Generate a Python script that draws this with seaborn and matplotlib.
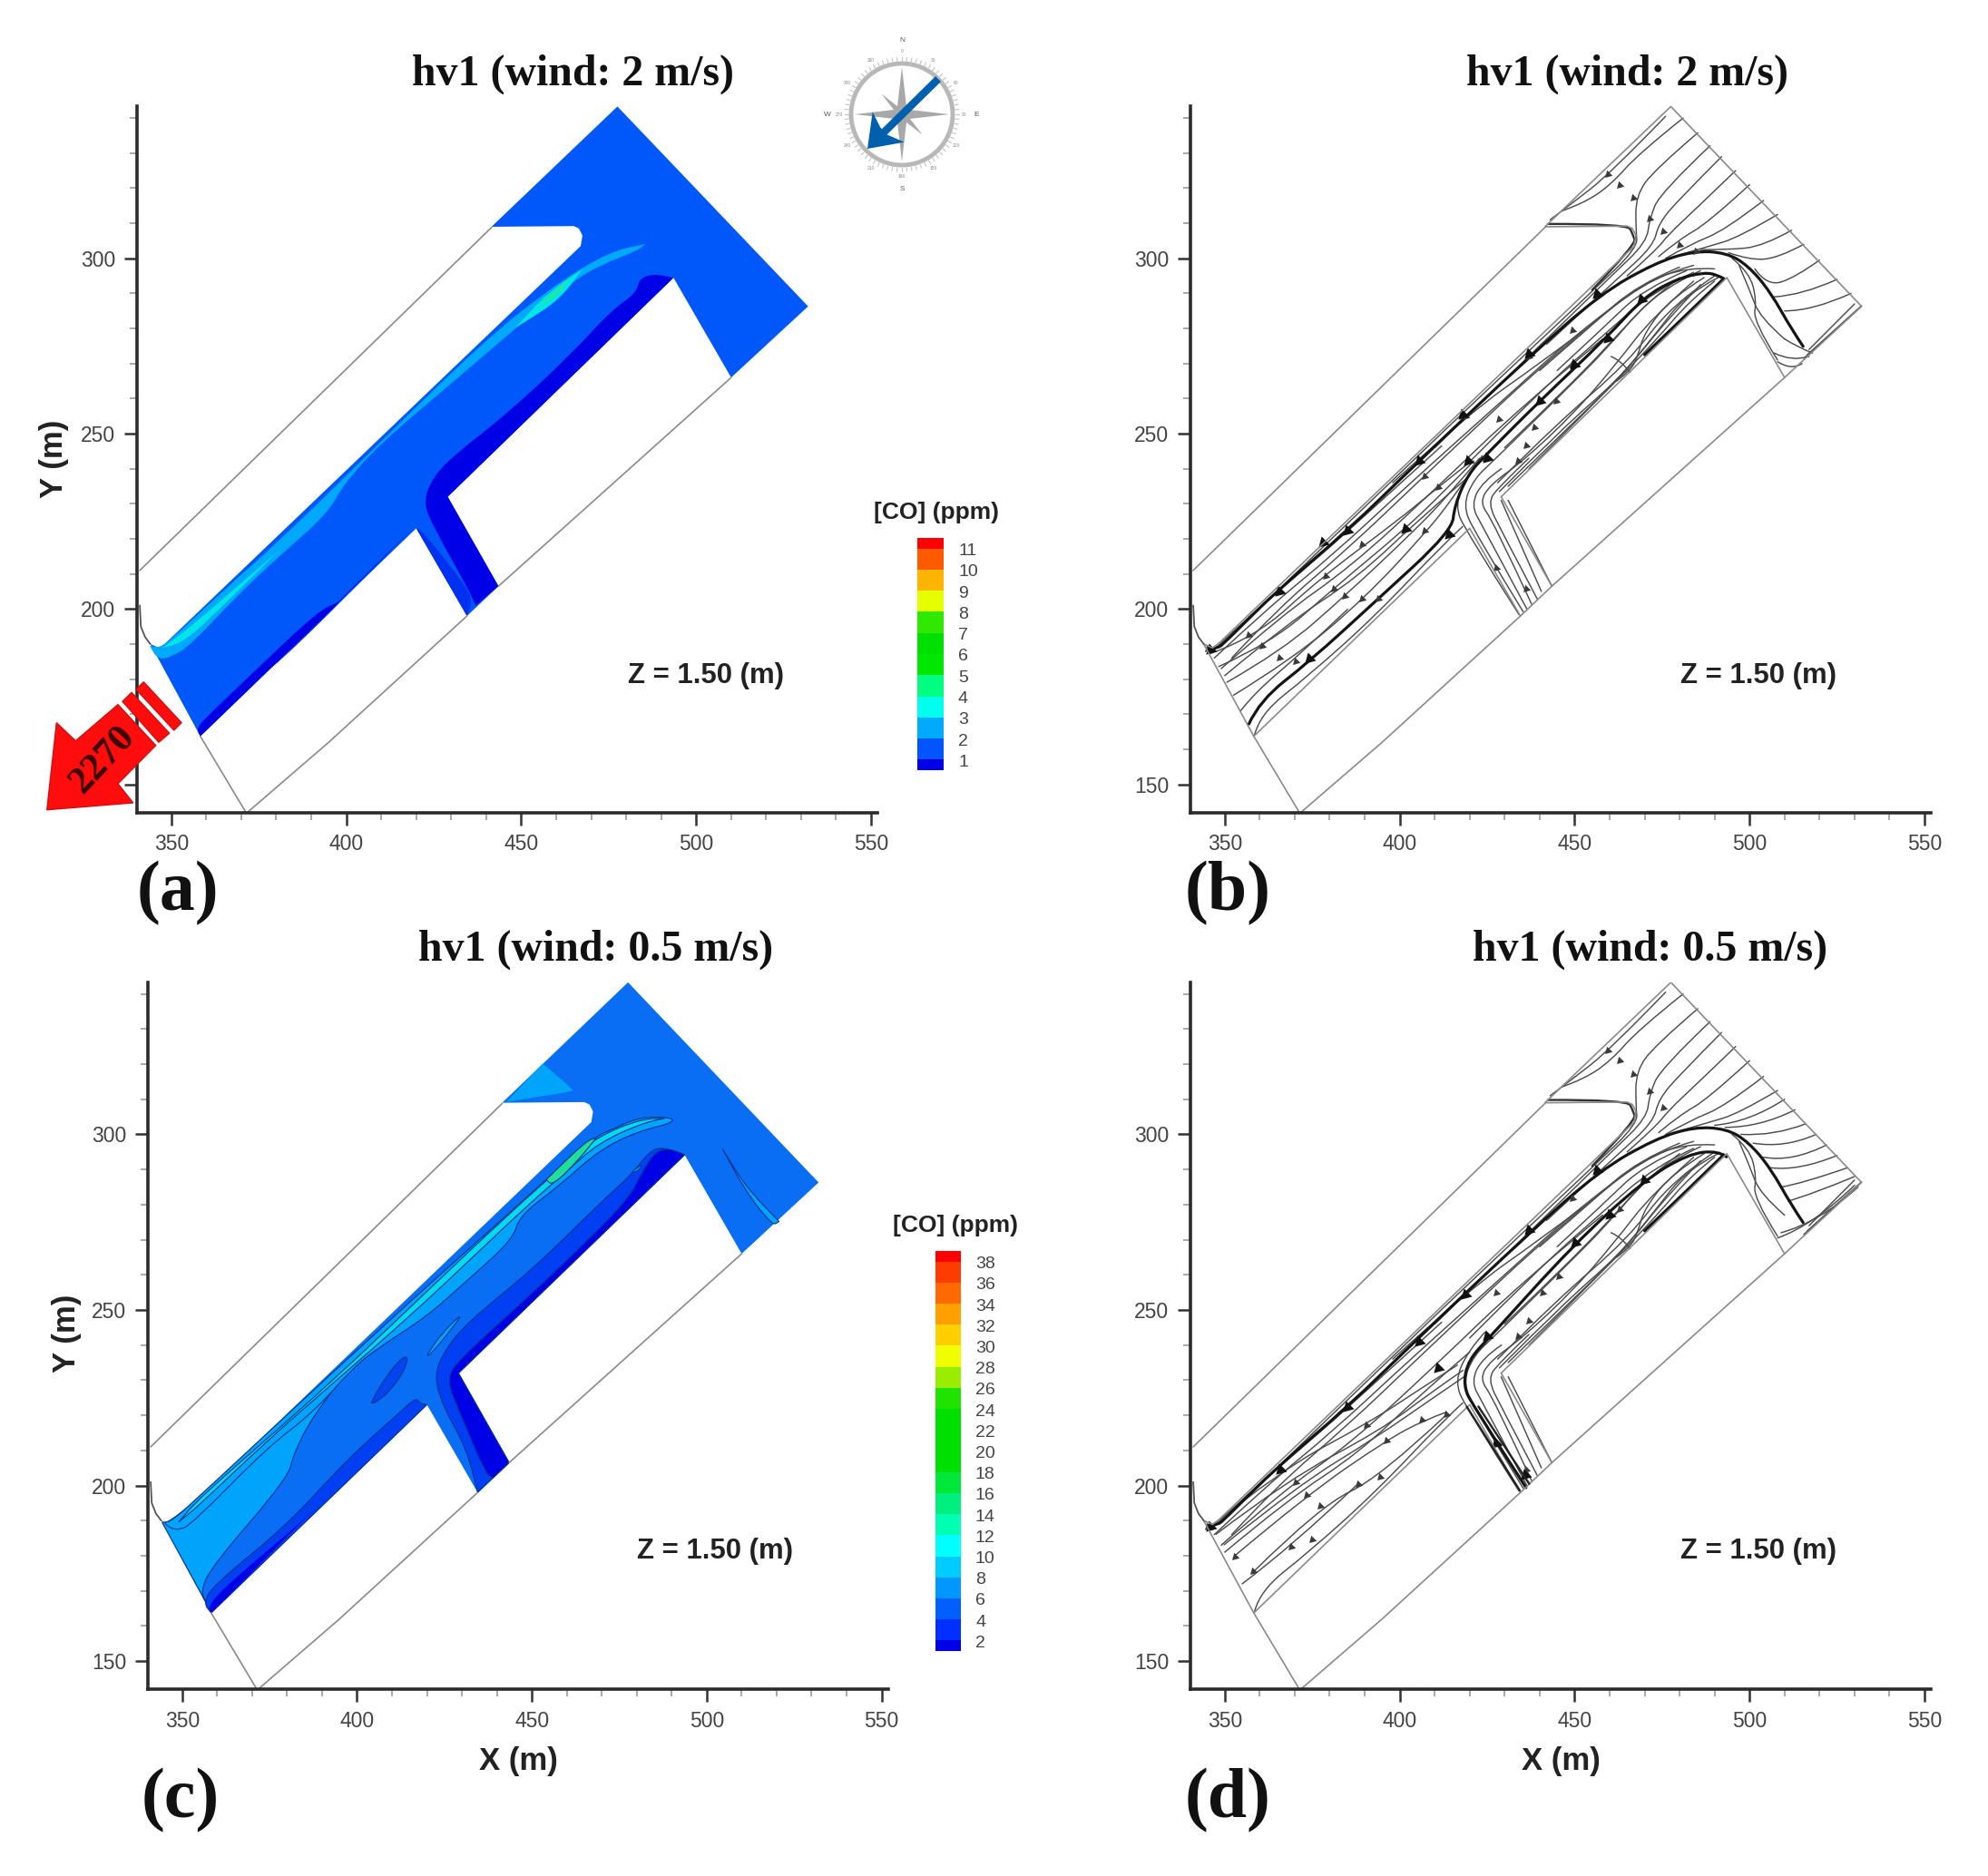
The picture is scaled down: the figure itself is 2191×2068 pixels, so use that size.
import numpy as np
import pandas as pd
import matplotlib
matplotlib.use("Agg")
import matplotlib.pyplot as plt
from matplotlib.colors import ListedColormap
from matplotlib.patches import Circle, PathPatch, Polygon
from matplotlib.path import Path
from matplotlib.ticker import MultipleLocator
import seaborn as sns

FIG_W, FIG_H = 2191, 2068
SANS = "Liberation Sans"
SERIF = "Liberation Serif"

# domain outline, shared by all panels (X, Y in m)
domain = [(344.0, 190.0), (346.5, 188.9), (348.3, 190.2), (467.0, 303.5), (467.5, 306.5), (466.5, 308.5), (465.0, 309.2),
          (441.5, 309.0), (477.5, 343.3), (532.0, 286.3), (510.0, 266.0), (493.5, 294.5), (429.0, 232.0),
          (443.5, 206.5), (434.5, 198.0), (420.0, 223.0), (358.3, 163.7)]
wall_top = [(341.0, 211.0), (441.5, 308.8)]
wall_sw = [(358.3, 163.7), (371.2, 142.2)]
wall_bottom = [(372.0, 142.2), (395.0, 162.0), (434.5, 198.0)]
wall_right = [(443.5, 206.5), (510.0, 266.0)]
wall_nose = [(341.0, 201.0), (341.3, 195.0), (342.5, 192.0), (344.0, 190.0)]

# panel (a) contour bands; a repeated point keeps a sharp corner
a_light = [(343.8, 189.5), (343.8, 189.5), (346.5, 188.9), (350.2, 191.5), (364.7, 205.1), (381.1, 219.6), (402.9, 240.8), (439.3, 276.5),
           (461.1, 293.5), (475.6, 302.0), (485.6, 304.1), (485.6, 304.1), (482.9, 302.0), (473.8, 298.6), (464.7, 293.5), (450.2, 281.6),
           (428.4, 262.9), (410.2, 247.6), (399.3, 235.7), (394.7, 227.2), (381.1, 215.3), (368.4, 203.4), (355.6, 189.8),
           (350.2, 186.4), (346.2, 185.5)]
a_cyan_top = [(448.4, 280.3), (448.4, 280.3), (457.5, 290.1), (467.5, 296.9), (467.5, 296.9), (461.1, 288.4), (452.0, 282.4)]
a_green_top = [(455.0, 286.5), (455.0, 286.5), (460.0, 291.0), (464.5, 295.0), (464.5, 295.0), (460.0, 289.0)]
a_cyan_low = [(347.5, 188.9), (347.5, 188.9), (355.6, 194.9), (381.1, 217.0), (381.1, 217.0), (364.7, 200.9), (353.8, 190.6)]
a_dark_inner = [(493.5, 294.4), (493.5, 294.4), (488.4, 295.6), (483.8, 294.4), (482.9, 290.1), (475.6, 285.0), (464.7, 273.1), (446.5, 256.1),
                (430.2, 243.4), (424.7, 237.4), (422.0, 230.6), (424.7, 223.8), (434.7, 206.0), (437.0, 201.0), (437.0, 201.0),
                (443.5, 206.5), (443.5, 206.5), (429.0, 232.0), (429.0, 232.0)]
a_mid_side = [(420.0, 223.0), (420.0, 223.0), (422.0, 222.0), (434.7, 206.0), (436.0, 201.7), (434.5, 198.0), (434.5, 198.0)]
a_mid_wall = [(375.0, 181.0), (375.0, 181.0), (381.0, 185.5), (400.0, 204.5), (419.5, 223.5), (419.5, 223.5), (400.0, 203.5), (380.0, 184.0)]
a_dark_wall = [(358.3, 163.7), (358.3, 163.7), (357.1, 166.0), (361.1, 170.2), (373.0, 181.5), (392.0, 199.5), (398.0, 202.0),
               (398.0, 202.0)]

# panel (c) contour bands
c_light_sw = [(344.3, 189.4), (344.3, 189.4), (347.1, 189.9), (374.2, 212.3), (398.9, 234.4), (387.5, 220.0), (381.8, 209.0), (380.3, 202.2),
              (358.9, 177.5), (355.1, 169.9), (357.4, 165.6), (357.4, 165.6)]
c_light_top = [(347.1, 189.9), (355.1, 197.1), (404.6, 242.9), (442.7, 276.9), (467.4, 299.0), (473.1, 301.5), (480.7, 304.9),
               (490.2, 304.9), (490.2, 303.2), (480.7, 301.0), (469.3, 295.6), (457.9, 285.4), (446.5, 276.9), (444.6, 270.1),
               (431.3, 258.2), (419.8, 248.0), (406.5, 239.5), (398.9, 233.6), (387.5, 220.8), (374.2, 210.7), (353.2, 189.4),
               (348.5, 186.9), (344.3, 189.4)]
c_cyan = [(349.0, 189.6), (349.0, 189.6), (355.0, 196.5), (378.0, 216.5), (397.0, 233.5), (416.0, 251.5), (443.0, 277.0), (460.0, 292.0),
          (469.0, 299.5), (481.0, 304.3), (488.0, 304.6), (488.0, 304.6), (481.0, 303.0), (469.0, 297.5), (460.0, 289.5), (449.0, 280.0),
          (432.0, 264.0), (416.0, 249.0), (393.0, 229.0), (374.0, 212.5), (355.0, 194.5)]
c_green = [(454.1, 287.1), (454.1, 287.1), (465.5, 298.1), (468.4, 299.0), (468.4, 299.0), (463.6, 293.0), (456.0, 285.4)]
c_mid_inner = [(493.7, 294.2), (493.7, 294.2), (487.4, 296.4), (483.6, 295.2), (478.8, 288.8), (469.3, 280.3), (450.3, 261.6), (431.3, 246.3),
               (424.6, 237.8), (422.1, 231.0), (424.6, 222.5), (431.3, 210.6), (434.5, 198.0), (434.5, 198.0), (443.5, 206.5), (443.5, 206.5),
               (429.0, 232.0), (429.0, 232.0)]
c_dark_inner = [(493.7, 294.2), (493.7, 294.2), (489.3, 295.9), (485.5, 295.2), (481.7, 289.6), (477.9, 281.9), (465.5, 269.3), (448.4, 253.1),
                (429.4, 236.1), (425.5, 230.2), (429.4, 220.8), (437.0, 203.0), (438.9, 202.2), (438.9, 202.2), (443.5, 206.5), (443.5, 206.5),
                (429.0, 232.0), (429.0, 232.0)]
c_mid_wall = [(358.3, 163.7), (358.3, 163.7), (356.1, 166.5), (358.9, 171.6), (379.9, 188.6), (397.0, 207.3), (412.2, 220.8), (417.0, 225.1),
              (417.9, 223.4), (420.0, 223.0), (420.0, 223.0)]
c_dark_wall = [(358.3, 163.7), (358.3, 163.7), (357.4, 165.6), (362.7, 171.6), (379.9, 186.0), (387.5, 192.8), (395.1, 200.5), (395.1, 200.5)]
c_blob = [(403.7, 223.4), (409.4, 232.7), (414.5, 237.8), (414.1, 233.6), (409.4, 226.8), (405.0, 223.4)]
c_blob2 = [(419.8, 237.0), (424.6, 243.8), (430.9, 249.7), (425.5, 242.6), (420.7, 237.0)]
c_triangle = [(442.7, 309.2), (442.7, 309.2), (453.1, 320.2), (453.1, 320.2), (461.7, 312.9), (461.7, 312.2), (450.3, 310.5)]
c_sliver = [(504.5, 295.9), (504.5, 295.9), (511.2, 285.0), (520.7, 275.2), (520.7, 275.2), (518.8, 274.0), (511.2, 283.7)]
c_small = [(477.9, 288.8), (481.7, 291.7), (480.7, 289.7)]

# streamlines used in both (b) and (d)
stream_top = [
    [(476.0, 340.5), (460.0, 324.0), (449.0, 315.5), (443.0, 311.0)],
    [(481.0, 340.0), (468.3, 329.9), (460.4, 321.0), (452.6, 315.7), (446.3, 313.5)],
    [(485.2, 335.8), (473.0, 325.4), (467.5, 318.0), (467.5, 308.0), (468.0, 303.0), (455.5, 291.0), (400.0, 239.0), (352.0, 192.5)],
    [(488.7, 332.1), (474.5, 318.7), (471.4, 311.3), (470.6, 304.6), (460.4, 294.9), (440.0, 275.0), (410.0, 246.0)],
    [(492.0, 329.0), (480.0, 317.0), (474.0, 310.0), (472.5, 303.5), (462.0, 294.0), (442.0, 275.5)],
    [(496.0, 325.0), (484.0, 313.5), (477.0, 307.0), (473.0, 302.0), (465.0, 295.0)],
    [(500.0, 321.0), (488.0, 310.0), (480.0, 305.5), (474.0, 300.5)],
    [(504.0, 316.5), (493.0, 308.0), (483.0, 304.0), (476.0, 300.0)],
    [(508.0, 312.5), (497.0, 306.0), (488.0, 303.3), (480.0, 301.0)],
    [(495.0, 300.0), (500.0, 296.0), (502.0, 288.0), (501.0, 282.0), (508.0, 271.0)],
    [(497.0, 298.0), (500.0, 291.0), (503.0, 283.0), (510.0, 277.0)],
    [(532.0, 286.5), (516.5, 272.5)],
    [(531.0, 285.5), (515.5, 271.5)],
    [(530.0, 287.0), (517.0, 274.0)],
    [(358.5, 164.0), (360.0, 170.0), (374.0, 181.0), (393.0, 198.0), (413.0, 219.0), (418.0, 223.5)],
    [(420.0, 242.0), (440.0, 262.0), (457.0, 277.0), (473.0, 291.0), (484.0, 296.0)],
    [(430.0, 246.0), (450.0, 265.0), (463.0, 279.0), (475.0, 291.5), (486.0, 296.5)],
    [(428.0, 236.0), (445.0, 253.0), (465.0, 270.0), (478.0, 287.0), (490.0, 295.0)],
    [(428.5, 233.5), (447.0, 252.0), (462.0, 265.0), (472.0, 277.0), (482.0, 290.0), (491.0, 294.5)],
    [(431.0, 235.0), (450.0, 253.5), (464.0, 267.0), (474.0, 277.5), (483.0, 288.0), (490.0, 293.5)],
    [(437.0, 240.0), (455.0, 258.0), (466.0, 269.5), (476.0, 282.0), (486.0, 292.5)],
    [(462.0, 265.0), (466.0, 268.0), (468.0, 272.0), (470.0, 279.0), (478.0, 289.0), (487.0, 294.5)],
    [(460.4, 272.0), (463.0, 271.0), (465.9, 267.5)],
    [(347.0, 186.0), (362.0, 200.0), (381.0, 215.5), (402.0, 235.0), (430.0, 260.0), (450.0, 278.0), (470.0, 293.0), (482.0, 297.5), (490.0, 297.0)],
    [(352.0, 186.0), (365.0, 200.0), (385.0, 217.0), (405.0, 236.0), (422.0, 252.0), (437.0, 266.0), (458.0, 284.0), (473.0, 295.0), (484.0, 298.0)],
    [(349.0, 183.0), (366.0, 198.0), (386.0, 212.0), (410.0, 234.0), (435.0, 258.0), (458.0, 277.0)],
    [(346.0, 187.5), (358.0, 199.0), (376.0, 214.0), (396.0, 232.0), (412.0, 246.5)],
    [(350.0, 181.0), (368.0, 196.0), (388.0, 209.0), (406.0, 226.0), (420.0, 238.0)],
    [(440.0, 268.0), (455.0, 281.0), (468.0, 292.5), (480.0, 297.5)],
    [(445.0, 268.0), (458.0, 280.0), (470.0, 291.5), (482.0, 296.5)],
    [(398.0, 236.0), (420.0, 256.0), (440.0, 270.0), (452.0, 279.0)],
    [(434.1, 198.4), (418.9, 222.2), (415.7, 229.6), (419.6, 238.5), (424.4, 243.7)],
    [(435.3, 199.2), (421.2, 222.2), (418.1, 229.6), (421.2, 237.0), (426.7, 242.2), (445.0, 260.0), (460.0, 275.0), (470.0, 287.0), (480.0, 294.5)],
    [(436.4, 199.9), (423.6, 223.7), (420.4, 229.6), (423.6, 236.3), (429.1, 240.0)],
    [(437.7, 201.4), (426.7, 225.1), (422.8, 230.3), (425.9, 235.5), (435.3, 242.2), (450.0, 256.0), (462.0, 270.0), (472.0, 283.0), (484.0, 293.5)],
    [(439.3, 202.9), (429.1, 222.2), (425.1, 230.3), (428.3, 234.8), (436.9, 243.0)],
    [(431.0, 231.0), (443.5, 206.5)],
    [(429.0, 231.0), (440.5, 205.0)],
]

# streamlines only in (b)
stream_b_extra = [
    [(512.0, 308.0), (504.0, 303.5), (494.0, 302.4), (486.0, 302.5)],
    [(515.5, 304.0), (508.0, 300.0), (500.0, 299.5), (494.0, 301.6)],
    [(520.0, 299.5), (513.0, 294.5), (505.0, 292.0), (501.5, 297.0)],
    [(525.0, 294.0), (515.0, 289.5), (507.0, 289.0)],
    [(529.0, 290.0), (518.0, 285.0), (510.0, 285.0)],
    [(510.0, 277.0), (514.0, 274.5), (518.0, 273.0)],
    [(507.0, 273.0), (512.0, 270.5), (517.0, 272.0)],
    [(508.0, 270.5), (512.0, 268.0), (515.0, 270.0)],
    [(345.9, 187.3), (358.5, 191.7), (377.3, 208.8), (399.3, 225.1), (410.2, 234.1), (419.6, 241.5)],
    [(348.3, 183.6), (363.2, 190.2), (382.0, 206.6), (400.8, 222.2), (411.8, 232.6), (421.2, 242.2)],
    [(350.6, 179.1), (366.3, 188.0), (385.1, 204.4), (403.2, 221.4), (413.4, 231.8), (422.8, 243.0)],
    [(352.5, 175.4), (369.5, 185.8), (389.8, 202.9), (407.1, 221.4), (414.9, 231.1), (423.6, 243.7)],
    [(354.5, 170.9), (358.5, 176.1), (371.8, 187.3), (385.1, 199.9)],
]

# streamlines only in (d)
stream_d_extra = [
    [(510.0, 310.0), (500.0, 303.5), (490.0, 302.6)],
    [(513.0, 307.0), (503.0, 302.0), (493.0, 302.0)],
    [(516.0, 303.0), (507.0, 299.5), (497.5, 300.0)],
    [(519.0, 300.0), (510.0, 296.0), (501.0, 297.5)],
    [(522.0, 297.0), (512.0, 292.0), (504.0, 293.5)],
    [(525.0, 294.0), (514.0, 289.5), (506.0, 290.5)],
    [(528.0, 290.5), (515.0, 286.0), (509.0, 285.0)],
    [(530.0, 288.0), (518.0, 283.0), (511.0, 281.0)],
    [(509.0, 272.0), (520.0, 275.0), (531.0, 285.0)],
    [(508.0, 270.5), (518.0, 274.0), (530.0, 285.5)],
    [(345.9, 188.3), (366.3, 204.6), (391.4, 218.0), (407.1, 228.3), (416.5, 234.3)],
    [(347.5, 186.1), (367.9, 201.6), (394.5, 215.7), (409.5, 226.9), (418.1, 232.8)],
    [(349.8, 183.1), (371.0, 200.1), (393.0, 213.5), (410.2, 225.4), (418.9, 231.3)],
    [(353.0, 180.1), (373.4, 197.2), (396.1, 212.8), (407.1, 218.7), (413.4, 220.9)],
    [(358.5, 175.7), (377.3, 194.2), (394.5, 202.4), (413.4, 220.2)],
    [(355.0, 172.0), (369.0, 182.5), (388.0, 200.4)],
]

# heavy lines (streamlines bundled together)
heavy_upper = [(346.0, 188.6), (348.0, 188.8), (350.0, 190.4), (365.5, 205.8), (385.0, 222.2), (405.5, 242.2), (437.0, 271.9),
               (457.3, 289.8), (473.0, 298.7), (484.0, 302.1), (493.4, 301.6), (499.6, 297.9), (505.9, 290.5), (512.2, 279.4),
               (515.3, 274.9)]
heavy_lower_b = [(356.9, 167.2), (360.0, 173.9), (374.2, 185.0), (393.0, 202.1), (414.9, 222.2), (415.7, 229.6), (419.6, 238.5),
                 (424.4, 243.7), (440.0, 259.3), (458.9, 277.1), (469.8, 289.0), (479.3, 294.2), (487.1, 296.0), (491.0, 295.2),
                 (492.6, 294.2)]
heavy_lower_d = [(436.1, 199.4), (421.2, 222.4), (418.1, 228.3), (419.6, 235.8), (425.9, 242.4), (449.5, 268.4), (469.8, 286.9),
                 (482.4, 294.4), (491.0, 295.4), (493.4, 293.6)]
heavy_wall = [(470.0, 272.5), (480.0, 282.0), (492.6, 294.2)]
medium_gate = [(442.4, 309.8), (465.0, 309.9), (466.7, 306.8), (467.5, 303.9), (455.0, 291.0)]

# arrowheads on the streamlines
arrows_b_x = [459.6, 462.8, 466.7, 471.4, 475.3, 480.0, 484.7, 456.5, 436.9, 449.5, 449.5, 469.1, 459.6, 440.0, 444.7, 438.5,
              428.3, 418.9, 405.5, 407.1, 411.0, 419.6, 424.4, 401.6, 407.1, 385.1, 389.1, 378.9, 365.5, 381.2, 384.4, 389.1,
              393.8, 356.9, 360.8, 365.5, 370.2, 374.2, 414.2, 427.5, 436.1, 345.1, 433.8, 436.1]
arrows_b_y = [323.9, 320.9, 317.2, 311.3, 307.6, 303.9, 302.1, 289.8, 271.9, 279.4, 269.7, 288.3, 277.1, 259.3, 259.3, 251.9,
              254.1, 254.8, 242.2, 237.8, 234.8, 242.2, 243.0, 222.9, 222.2, 222.2, 218.5, 209.5, 205.1, 205.8, 203.6, 202.9,
              202.9, 192.5, 189.5, 186.2, 185.0, 185.8, 221.4, 211.8, 205.8, 188.8, 242.2, 246.7]
arrows_d_x = [459.6, 462.8, 466.7, 471.4, 475.3, 456.5, 436.9, 449.5, 450.2, 469.8, 462.8, 445.5, 440.8, 427.5, 418.9, 405.5,
              411.0, 425.1, 406.3, 413.4, 385.1, 390.6, 396.1, 366.3, 370.2, 373.4, 377.3, 388.3, 394.5, 369.1, 374.9, 353.0,
              358.2, 427.5, 436.1, 345.1, 433.8, 436.9]
arrows_d_y = [324.0, 321.1, 317.1, 312.2, 307.7, 289.9, 272.8, 281.8, 269.1, 286.9, 278.8, 259.5, 255.0, 255.0, 254.3, 240.9,
              233.5, 242.4, 218.7, 220.2, 222.4, 217.2, 212.8, 204.6, 200.9, 197.2, 194.2, 200.4, 202.4, 182.6, 184.6, 179.8,
              175.7, 212.0, 204.6, 188.3, 242.4, 246.9]

# larger dark arrowheads sitting on the heavy lines
blobs_b_x = [365.5, 378.0, 385.1, 405.5, 418.0, 436.9, 456.5, 419.6, 425.1, 440.0, 450.0, 459.6, 469.1, 374.2, 401.6, 414.2, 346.0]
blobs_b_y = [205.1, 219.0, 222.2, 242.2, 255.5, 272.7, 289.8, 242.2, 243.0, 259.3, 269.7, 277.1, 288.3, 185.8, 222.9, 221.4, 188.5]
blobs_d_x = [366.0, 385.0, 418.9, 436.9, 456.5, 405.5, 411.0, 425.1, 450.2, 469.8, 460.0, 427.5, 346.0, 436.0]
blobs_d_y = [204.6, 222.4, 254.3, 272.8, 289.9, 240.9, 233.5, 242.4, 269.1, 286.9, 277.0, 212.0, 188.3, 203.0]

# legends: bottom band first
cbar_a_labels = ["11", "10", "9", "8", "7", "6", "5", "4", "3", "2", "1"]
cbar_a_colors = ["#0000e8", "#0055ff", "#00aaff", "#00ffee", "#00ff80", "#00e800", "#00e000", "#30e800", "#e6ff00", "#ffb400",
                 "#ff5a00", "#ff0000"]
cbar_c_labels = ["38", "36", "34", "32", "30", "28", "26", "24", "22", "20", "18", "16", "14", "12", "10", "8", "6", "4", "2"]
cbar_c_colors = ["#0000e8", "#0030ff", "#0060ff", "#0098ff", "#00ccff", "#00ffff", "#00ffb0", "#00f080", "#00e838", "#00e000",
                 "#00e000", "#00e000", "#20e400", "#99ee00", "#f0ff00", "#ffd000", "#ffa000", "#ff6a00", "#ff3c00", "#ff0000"]

sns.set_style("ticks")
plt.rcParams["font.family"] = [SANS, "DejaVu Sans"]
fig = plt.figure(figsize=(FIG_W / 100, FIG_H / 100), dpi=100)


def rect(left, top, right, bottom):
    return [left / FIG_W, 1 - bottom / FIG_H, (right - left) / FIG_W, (bottom - top) / FIG_H]


def make_axes(left, top, right, bottom):
    ax = fig.add_axes(rect(left, top, right, bottom))
    ax.set_xlim(340.2, 551.8)
    ax.set_ylim(142.0, 343.4)
    sns.despine(ax=ax)
    for side in ["left", "bottom"]:
        ax.spines[side].set_linewidth(2.6)
        ax.spines[side].set_color("#2b2b2b")
    ax.xaxis.set_major_locator(MultipleLocator(50))
    ax.yaxis.set_major_locator(MultipleLocator(50))
    ax.xaxis.set_minor_locator(MultipleLocator(10))
    ax.yaxis.set_minor_locator(MultipleLocator(10))
    ax.tick_params(which="major", length=10, width=1.8, color="#333333", labelsize=16.5, labelcolor="#444444", pad=7)
    ax.tick_params(which="minor", length=5.5, width=1.2, color="#999999")
    return ax


def curve_path(pts, closed=False):
    # the listed points are read as quadratic bezier control points
    pts = [np.array(p) for p in pts]
    if closed:
        verts = [(pts[-1] + pts[0]) / 2]
        codes = [Path.MOVETO]
        for i in range(len(pts)):
            verts += [pts[i], (pts[i] + pts[(i + 1) % len(pts)]) / 2]
            codes += [Path.CURVE3, Path.CURVE3]
        return Path(verts, codes)
    verts = [pts[0]]
    codes = [Path.MOVETO]
    for i in range(1, len(pts) - 1):
        end = (pts[i] + pts[i + 1]) / 2 if i < len(pts) - 2 else pts[-1]
        verts += [pts[i], end]
        codes += [Path.CURVE3, Path.CURVE3]
    if len(pts) == 2:
        verts.append(pts[1])
        codes.append(Path.LINETO)
    return Path(verts, codes)


def fill(ax, pts, color, edge=None, smooth=True):
    if smooth:
        patch = PathPatch(curve_path(pts, closed=True), facecolor=color, edgecolor=edge if edge else color,
                          linewidth=0.8 if edge else 0)
        ax.add_patch(patch)
    else:
        xs, ys = zip(*pts)
        ax.fill(xs, ys, facecolor=color, edgecolor="none", linewidth=0)


def draw_lines(ax, lines, color, width):
    rows = []
    for i, line in enumerate(lines):
        for x, y in line:
            rows.append({"line": i, "x": x, "y": y})
    table = pd.DataFrame(rows)
    sns.lineplot(data=table, x="x", y="y", units="line", estimator=None, sort=False, color=color, linewidth=width, ax=ax,
                 legend=False)
    ax.set_xlabel("")
    ax.set_ylabel("")


def draw_curves(ax, lines, color, width):
    for line in lines:
        ax.add_patch(PathPatch(curve_path(line), facecolor="none", edgecolor=color, linewidth=width, capstyle="round"))


def draw_walls(ax, with_domain):
    lines = [wall_top, wall_sw, wall_bottom, wall_right]
    if with_domain:
        lines += [domain + [domain[0]]]
    draw_lines(ax, lines, "#8a8a8a", 1.2)
    draw_lines(ax, [wall_nose], "#555555", 1.3)


def streamlines(ax, extra, heavy, arrow_x, arrow_y, blob_x, blob_y):
    draw_walls(ax, True)
    draw_curves(ax, stream_top + extra, "#4d4d4d", 1.05)
    draw_curves(ax, [medium_gate], "#333333", 1.7)
    draw_curves(ax, [heavy_upper, heavy, heavy_wall], "#151515", 2.3)
    sns.scatterplot(x=arrow_x, y=arrow_y, marker=(3, 0, 135), s=50, color="#3a3a3a", linewidth=0, ax=ax, legend=False)
    sns.scatterplot(x=blob_x, y=blob_y, marker=(3, 0, 135), s=110, color="#111111", linewidth=0, ax=ax, legend=False)


def colorbar(left, top, right, bottom, colors, labels, title, title_xy, label_x):
    cax = fig.add_axes(rect(left, top, right, bottom))
    # end bands are half as tall as the others
    counts = [1] + [2] * (len(colors) - 2) + [1]
    rows = np.repeat(np.arange(len(colors)), counts)[::-1].reshape(-1, 1)
    sns.heatmap(rows, cmap=ListedColormap(colors), cbar=False, xticklabels=False, yticklabels=False, ax=cax)
    step = (bottom - top) / len(labels)
    for i, lab in enumerate(labels):
        over.text(label_x, top + step * (i + 0.5) + 3, lab, fontsize=14, color="#444444", ha="left", va="center")
    over.text(title_xy[0], title_xy[1], title, fontsize=19, fontweight="bold", color="#222222", ha="center", va="center")


ax_a = make_axes(151, 117, 967, 895.5)
ax_b = make_axes(1312, 117, 2128, 895.5)
ax_c = make_axes(163, 1082.5, 978.5, 1862)
ax_d = make_axes(1312, 1082.5, 2128, 1862)

# overlay in figure pixels for annotations, legends, arrow and compass
over = fig.add_axes([0, 0, 1, 1], zorder=5)
over.set_xlim(0, FIG_W)
over.set_ylim(FIG_H, 0)
over.axis("off")
over.patch.set_alpha(0)

# panel (a)
fill(ax_a, domain, "#0058fb", smooth=False)
fill(ax_a, a_light, "#00a8ff")
fill(ax_a, a_cyan_top, "#00e6e6")
fill(ax_a, a_green_top, "#20e8a0")
fill(ax_a, a_cyan_low, "#00e6e6")
fill(ax_a, a_mid_wall, "#0030f0")
fill(ax_a, a_dark_wall, "#0000e6")
fill(ax_a, a_dark_inner, "#0000e6")
fill(ax_a, a_mid_side, "#0030f0")
draw_walls(ax_a, False)

# panel (b)
streamlines(ax_b, stream_b_extra, heavy_lower_b, arrows_b_x, arrows_b_y, blobs_b_x, blobs_b_y)

# panel (c)
line_c = "#07328f"
fill(ax_c, domain, "#0a6ef5", smooth=False)
fill(ax_c, c_light_sw, "#00a4fa", line_c)
fill(ax_c, c_light_top, "#00a4fa", line_c)
fill(ax_c, c_cyan, "#00dcec", line_c)
fill(ax_c, c_green, "#20e098", line_c)
fill(ax_c, c_mid_inner, "#0040f2", line_c)
fill(ax_c, c_dark_inner, "#0000e6", line_c)
fill(ax_c, c_mid_wall, "#0040f2", line_c)
fill(ax_c, c_dark_wall, "#0000e6")
fill(ax_c, c_blob, "#0045f0", line_c)
fill(ax_c, c_blob2, "#00a4fa", line_c)
fill(ax_c, c_triangle, "#00a4fa")
fill(ax_c, c_sliver, "#00a4fa", line_c)
fill(ax_c, c_small, "#00a4fa", line_c)
draw_walls(ax_c, False)

# panel (d)
streamlines(ax_d, stream_d_extra, heavy_lower_d, arrows_d_x, arrows_d_y, blobs_d_x, blobs_d_y)
draw_lines(ax_d, [[(434.3, 198.6), (419.2, 222.4)], [(437.0, 200.5), (422.5, 222.5)]], "#222222", 1.7)

# titles and labels
title_font = dict(family=SERIF, fontweight="bold", fontsize=34.5, color="#111111", ha="center", va="center")
over.text(631.5, 82, "hv1 (wind: 2 m/s)", **title_font)
over.text(1794, 82, "hv1 (wind: 2 m/s)", **title_font)
over.text(657, 1047, "hv1 (wind: 0.5 m/s)", **title_font)
over.text(1819, 1047, "hv1 (wind: 0.5 m/s)", **title_font)

letter_font = dict(family=SERIF, fontweight="bold", fontsize=56, color="#111111", ha="left", va="center")
over.text(151, 985, "(a)", **letter_font)
over.text(1306, 985, "(b)", **letter_font)
over.text(156, 1985, "(c)", **letter_font)
over.text(1306, 1985, "(d)", **letter_font)

axis_font = dict(fontweight="bold", fontsize=25, color="#222222", ha="center", va="center")
over.text(59, 506, "Y (m)", rotation=90, **axis_font)
over.text(74, 1470, "Y (m)", rotation=90, **axis_font)
over.text(571, 1942, "X (m)", **axis_font)
over.text(1720, 1942, "X (m)", **axis_font)

z_font = dict(fontweight="bold", fontsize=22.4, color="#222222", ha="center", va="center")
over.text(778, 745, "Z = 1.50 (m)", **z_font)
over.text(1938, 745, "Z = 1.50 (m)", **z_font)
over.text(788, 1710, "Z = 1.50 (m)", **z_font)
over.text(1938, 1710, "Z = 1.50 (m)", **z_font)

colorbar(1011, 593, 1040, 849, cbar_a_colors, cbar_a_labels, "[CO] (ppm)", (1032, 565), 1056)
colorbar(1031, 1379, 1059, 1820, cbar_c_colors, cbar_c_labels, "[CO] (ppm)", (1053, 1351), 1075)

# traffic arrow over panel (a)
over.add_patch(Polygon([(51.7, 892.7), (62.3, 796.7), (83.3, 816.7), (130, 776.7), (171.7, 821.7), (130, 864), (146.7, 885)],
                       closed=True, facecolor="#ff0d0d", edgecolor="#d01010", linewidth=1))
over.add_patch(Polygon([(135, 773.3), (145, 763.3), (186.7, 808.3), (175, 818.3)], closed=True, facecolor="#ff0d0d",
                       edgecolor="#d01010", linewidth=1))
over.add_patch(Polygon([(150, 760), (158.3, 751.7), (200, 796.7), (191.7, 805)], closed=True, facecolor="#ff0d0d",
                       edgecolor="#d01010", linewidth=1))
over.text(113, 838, "2270", family=SERIF, fontweight="bold", fontsize=31, color="#3a0505", rotation=47, ha="center", va="center",
          rotation_mode="anchor")

# compass
cx, cy = 994, 126
over.add_patch(Circle((cx, cy), 56, facecolor="white", edgecolor="#b8b8b8", linewidth=3.5))
for deg in range(0, 360, 5):
    ang = np.deg2rad(deg)
    over.plot([cx + 59 * np.sin(ang), cx + 63 * np.sin(ang)], [cy - 59 * np.cos(ang), cy - 63 * np.cos(ang)], color="#c4c4c4",
              lw=0.8)
for deg in range(0, 360, 30):
    ang = np.deg2rad(deg)
    over.text(cx + 69 * np.sin(ang), cy - 69 * np.cos(ang), str(deg), fontsize=3.5, color="#888888", ha="center", va="center")
for deg, reach in [(45, 32), (135, 32), (225, 32), (315, 32), (0, 52), (90, 52), (180, 52), (270, 52)]:
    ang = np.deg2rad(deg)
    side = np.deg2rad(deg + 90)
    half = 6 if reach == 52 else 4
    tip = (cx + reach * np.sin(ang), cy - reach * np.cos(ang))
    over.add_patch(Polygon([tip, (cx + half * np.sin(side), cy - half * np.cos(side)), (cx - half * np.sin(side), cy + half * np.cos(side))],
                           closed=True, facecolor="#a8a8a8", edgecolor="none"))
for lab, dx, dy in [("N", 0, -82), ("S", 0, 82), ("E", 82, 0), ("W", -82, 0)]:
    over.text(cx + dx, cy + dy, lab, fontsize=6, color="#555555", ha="center", va="center")
over.plot([1034, 972], [87, 148], color="#0060ae", lw=6, solid_capstyle="butt")
over.add_patch(Polygon([(956, 164), (961.7, 123.3), (970, 140), (976.7, 148), (996.7, 156.7)], closed=True, facecolor="#0060ae",
                       edgecolor="none"))

fig.savefig("out.png", dpi=100)
